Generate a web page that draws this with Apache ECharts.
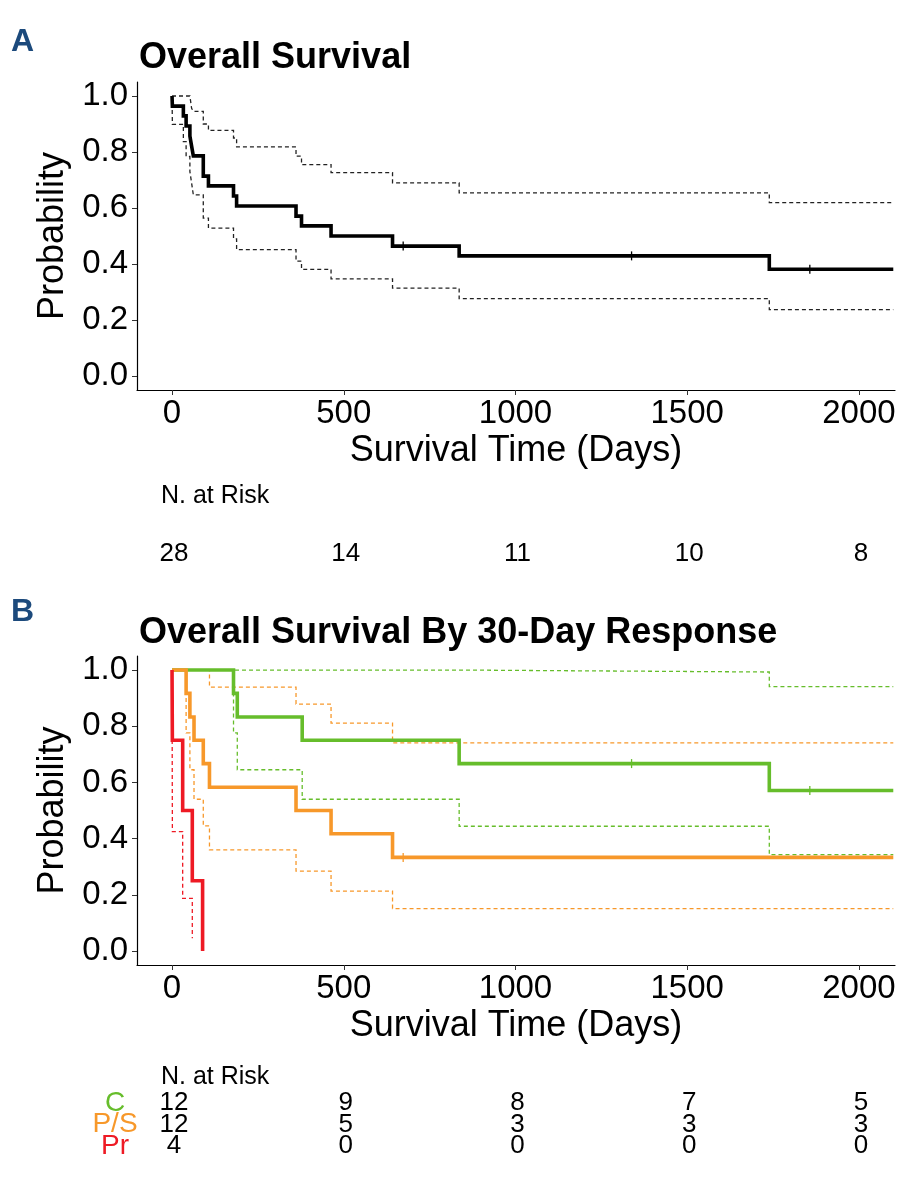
<!DOCTYPE html>
<html><head><meta charset="utf-8">
<script src="https://cdn.jsdelivr.net/npm/echarts@6/dist/echarts.min.js"></script>
<style>html,body{margin:0;padding:0;background:#fff}#c{width:923px;height:1180px}</style>
</head><body><div id="c"></div>
<script>
// ---------- axes ----------
const xTicks = [0, 500, 1000, 1500, 2000];
const yTicks = [0, 0.2, 0.4, 0.6, 0.8, 1.0];

// ---------- Panel A : overall survival (n = 28) ----------
const osTime  = [0, 1, 33, 41, 52, 57, 62, 91, 106, 179, 188, 361, 377, 463, 642, 836, 1739, 2100];
const osSurv  = [1, 0.964, 0.929, 0.893, 0.857, 0.821, 0.786, 0.714, 0.679, 0.643, 0.607, 0.571, 0.536, 0.5, 0.464, 0.429, 0.381, 0.381];
const osUpper = [1, 1, 1, 1, 1, 0.956, 0.945, 0.90, 0.877, 0.85, 0.818, 0.785, 0.755, 0.726, 0.69, 0.654, 0.619, 0.619];
const osLower = [1, 0.899, 0.837, 0.784, 0.73, 0.689, 0.647, 0.564, 0.528, 0.49, 0.451, 0.41, 0.381, 0.347, 0.314, 0.276, 0.237, 0.237];
const osCensorTime = [673, 1338, 1857];
const osCensorSurv = [0.464, 0.429, 0.381];
const riskTimes = [0, 500, 1000, 1500, 2000];
const riskAll = [28, 14, 11, 10, 8];

// ---------- Panel B : by 30-day response ----------
const groups = ['C', 'P/S', 'Pr'];
const cTime  = [0, 179, 190, 379, 836, 1739, 2100];
const cSurv  = [1, 0.917, 0.833, 0.75, 0.667, 0.571, 0.571];
const cLower = [1, 0.776, 0.645, 0.54, 0.444, 0.343, 0.343];
const cUpperTime = [0, 836, 1739, 2100];
const cUpper = [1, 0.993, 0.941, 0.941];
const cCensorTime = [1338, 1857];
const cCensorSurv = [0.667, 0.571];

const psTime  = [0, 41, 52, 64, 91, 109, 361, 463, 642, 2100];
const psSurv  = [1, 0.917, 0.833, 0.75, 0.667, 0.583, 0.5, 0.417, 0.333, 0.333];
const psLower = [1, 0.776, 0.645, 0.54, 0.445, 0.36, 0.284, 0.213, 0.151, 0.151];
const psUpperTime = [0, 109, 361, 463, 642, 2100];
const psUpper = [1, 0.939, 0.879, 0.811, 0.741, 0.741];
const psCensorTime = [673];
const psCensorSurv = [0.333];

const prTime  = [0, 1, 31, 59, 89];
const prSurv  = [1, 0.75, 0.5, 0.25, 0];
const prLowerTime = [0, 1, 31, 59];
const prLower = [1, 0.425, 0.187, 0.045];
const prUpperTime = [0, 59];
const prUpper = [1, 1];

const riskC  = [12, 9, 8, 7, 5];
const riskPS = [12, 5, 3, 3, 3];
const riskPr = [4, 0, 0, 0, 0];

// ---------- styling ----------
const FONT = '"Liberation Sans", Arial, sans-serif';
const GREEN = '#66BD2B', ORANGE = '#F7982A', RED = '#EE1A24', BLUE = '#1C4A7C';
const XMIN = -102, XMAX = 2105, YMIN = -0.05, YMAX = 1.05;

const zip = (t, s) => t.map((x, i) => [x, s[i]]);

function stepLine(t, s, color, width, dashed, gi, z) {
  return {
    type: 'line', xAxisIndex: gi, yAxisIndex: gi, step: 'end',
    data: zip(t, s), symbol: 'none', showSymbol: false, silent: true,
    lineStyle: { color: color, width: width, type: dashed ? [4, 3] : 'solid', cap: 'butt', join: 'miter' },
    z: z, clip: true, animation: false
  };
}
function censor(t, s, color, gi) {
  return {
    type: 'scatter', xAxisIndex: gi, yAxisIndex: gi, data: zip(t, s),
    symbol: 'rect', symbolSize: [1.3, 9], itemStyle: { color: color, opacity: 1 }, z: 6, silent: true, animation: false
  };
}
function plotX(gi) {
  return {
    gridIndex: gi, type: 'value', min: XMIN, max: XMAX,
    name: 'Survival Time (Days)', nameLocation: 'middle', nameGap: 43,
    nameTextStyle: { fontSize: 36, color: '#000', fontFamily: FONT },
    axisLine: { show: true, onZero: false, lineStyle: { color: '#000', width: 1.2 } },
    axisTick: { show: true, length: 5, customValues: xTicks, lineStyle: { color: '#333' } },
    axisLabel: { customValues: xTicks, fontSize: 33, color: '#000', fontFamily: FONT, margin: 7,
                 formatter: v => String(v) },
    splitLine: { show: false }
  };
}
function plotY(gi) {
  return {
    gridIndex: gi, type: 'value', min: YMIN, max: YMAX,
    name: 'Probability', nameLocation: 'middle', nameGap: 52,
    nameTextStyle: { fontSize: 36, color: '#000', fontFamily: FONT },
    axisLine: { show: true, onZero: false, lineStyle: { color: '#000', width: 1.2 } },
    axisTick: { show: true, length: 5, customValues: yTicks, lineStyle: { color: '#333' } },
    axisLabel: { customValues: yTicks, fontSize: 33, color: '#000', fontFamily: FONT, margin: 9,
                 formatter: v => Number(v).toFixed(1) },
    splitLine: { show: false }
  };
}
function riskX(gi) {
  return { gridIndex: gi, type: 'value', min: XMIN, max: XMAX, show: false };
}
function riskSeries(values, cat, gi) {
  return {
    type: 'scatter', xAxisIndex: gi, yAxisIndex: gi,
    data: riskTimes.map((t, i) => [t, cat, values[i]]),
    symbolSize: 1, itemStyle: { color: 'rgba(0,0,0,0)', opacity: 1 }, silent: true, animation: false,
    label: { show: true, position: 'inside', formatter: p => String(p.value[2]),
             fontSize: 26, color: '#000', opacity: 1, textBorderWidth: 0, fontFamily: FONT }
  };
}

const chart = echarts.init(document.getElementById('c'), null, { renderer: 'canvas' });
chart.setOption({
  backgroundColor: '#fff',
  animation: false,
  grid: [
    { left: 137, width: 758, top: 82, height: 308 },
    { left: 137, width: 758, top: 656, height: 309 },
    { left: 139, width: 758, top: 541, height: 26 },
    { left: 139, width: 758, top: 1092, height: 65 }
  ],
  xAxis: [plotX(0), plotX(1), riskX(2), riskX(3)],
  yAxis: [
    plotY(0), plotY(1),
    { gridIndex: 2, type: 'category', data: ['all'], show: false },
    { gridIndex: 3, type: 'category', data: groups, inverse: true,
      axisLine: { show: false }, axisTick: { show: false },
      axisLabel: { show: true, interval: 0, align: 'center', margin: 24, fontFamily: FONT,
        formatter: v => '{' + (v === 'C' ? 'c' : v === 'P/S' ? 'ps' : 'pr') + '|' + v + '}',
        rich: {
          c:  { color: GREEN,  fontSize: 28, fontFamily: FONT },
          ps: { color: ORANGE, fontSize: 28, fontFamily: FONT },
          pr: { color: RED,    fontSize: 28, fontFamily: FONT }
        } } }
  ],
  graphic: [
    { type: 'text', x: 11, y: 42, style: { text: 'A', fontSize: 32, fontWeight: 'bold', fontFamily: FONT, fill: BLUE, verticalAlign: 'middle' } },
    { type: 'text', x: 139, y: 58, style: { text: 'Overall Survival', fontSize: 36, fontWeight: 'bold', fontFamily: FONT, fill: '#000', verticalAlign: 'middle' } },
    { type: 'text', x: 161, y: 496, style: { text: 'N. at Risk', fontSize: 25, fontFamily: FONT, fill: '#000', verticalAlign: 'middle' } },
    { type: 'text', x: 11, y: 612, style: { text: 'B', fontSize: 32, fontWeight: 'bold', fontFamily: FONT, fill: BLUE, verticalAlign: 'middle' } },
    { type: 'text', x: 139, y: 633, style: { text: 'Overall Survival By 30-Day Response', fontSize: 36, fontWeight: 'bold', fontFamily: FONT, fill: '#000', verticalAlign: 'middle' } },
    { type: 'text', x: 161, y: 1077, style: { text: 'N. at Risk', fontSize: 25, fontFamily: FONT, fill: '#000', verticalAlign: 'middle' } }
  ],
  series: [
    // Panel A
    stepLine(osTime, osUpper, '#222', 1.3, true, 0, 2),
    stepLine(osTime, osLower, '#222', 1.3, true, 0, 2),
    stepLine(osTime, osSurv, '#000', 3.6, false, 0, 4),
    censor(osCensorTime, osCensorSurv, '#000', 0),
    // Panel B CIs
    stepLine(cUpperTime, cUpper, GREEN, 1.3, true, 1, 2),
    stepLine(cTime, cLower, GREEN, 1.3, true, 1, 2),
    stepLine(psUpperTime, psUpper, ORANGE, 1.3, true, 1, 2),
    stepLine(psTime, psLower, ORANGE, 1.3, true, 1, 2),
    stepLine(prUpperTime, prUpper, RED, 1.3, true, 1, 2),
    stepLine(prLowerTime, prLower, RED, 1.3, true, 1, 2),
    // Panel B curves
    stepLine(cTime, cSurv, GREEN, 3.6, false, 1, 4),
    stepLine(psTime, psSurv, ORANGE, 3.6, false, 1, 4),
    stepLine(prTime, prSurv, RED, 3.6, false, 1, 5),
    censor(cCensorTime, cCensorSurv, GREEN, 1),
    censor(psCensorTime, psCensorSurv, ORANGE, 1),
    // risk tables
    riskSeries(riskAll, 'all', 2),
    riskSeries(riskC, 'C', 3),
    riskSeries(riskPS, 'P/S', 3),
    riskSeries(riskPr, 'Pr', 3)
  ]
});
</script></body></html>
